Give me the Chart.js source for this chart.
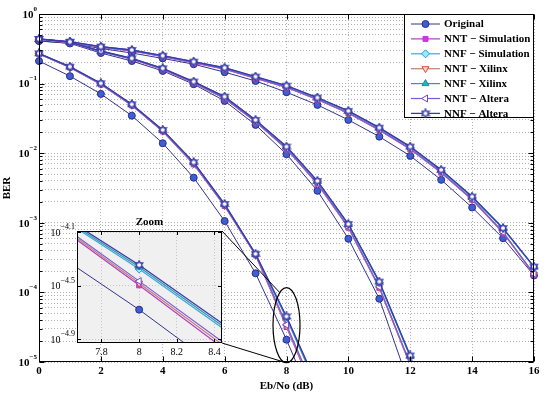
<!DOCTYPE html>
<html>
<head>
<meta charset="utf-8">
<script src="https://cdn.jsdelivr.net/npm/chart.js@4.4.0/dist/chart.umd.min.js"></script>
<style>
  html, body { margin: 0; padding: 0; background: #fff; }
  #wrap { position: relative; width: 550px; height: 394px; }
  #main { position: absolute; left: 0; top: 0; }
  #zoom { position: absolute; }
</style>
</head>
<body>
<div id="wrap">
  <canvas id="main" width="550" height="394"></canvas>
  <canvas id="zoom" width="190" height="152"></canvas>
</div>
<script>
// Eb/No axis values (dB)
var ebno = [0, 1, 2, 3, 4, 5, 6, 7, 8, 9, 10, 11, 12, 13, 14, 15, 16];

var seriesNames = ['Original', 'NNT \u2212 Simulation', 'NNF \u2212 Simulation', 'NNT \u2212 Xilinx',
                   'NNF \u2212 Xilinx', 'NNT \u2212 Altera', 'NNF \u2212 Altera'];

// upper family of curves
var originalA = [0.41, 0.38, 0.32, 0.275, 0.23, 0.19, 0.146, 0.109, 0.0751, 0.0494, 0.0301, 0.0173, 0.00915, 0.00414, 0.00166, 0.00060, 0.000175];
var nntSimA = [0.432, 0.392, 0.332, 0.296, 0.244, 0.199, 0.161, 0.119, 0.088, 0.0588, 0.0376, 0.0214, 0.0114, 0.00525, 0.00214, 0.00072, 0.000180];
var nnfSimA = [0.436, 0.398, 0.338, 0.302, 0.250, 0.205, 0.167, 0.124, 0.092, 0.0620, 0.0400, 0.0229, 0.0122, 0.0056, 0.00232, 0.00082, 0.000230];
var nntXilA = [0.433, 0.393, 0.333, 0.297, 0.245, 0.200, 0.162, 0.120, 0.0885, 0.0592, 0.0379, 0.0216, 0.0115, 0.0053, 0.00216, 0.00073, 0.000182];
var nnfXilA = [0.437, 0.399, 0.339, 0.303, 0.251, 0.206, 0.168, 0.125, 0.093, 0.0625, 0.0402, 0.0231, 0.0123, 0.0057, 0.00235, 0.00083, 0.000232];
var nntAltA = [0.434, 0.394, 0.334, 0.298, 0.246, 0.201, 0.163, 0.121, 0.089, 0.0596, 0.0382, 0.0218, 0.0116, 0.00535, 0.00218, 0.000735, 0.000184];
var nnfAltA = [0.438, 0.400, 0.340, 0.304, 0.252, 0.207, 0.169, 0.126, 0.0935, 0.0629, 0.0405, 0.0233, 0.01245, 0.00576, 0.00238, 0.00084, 0.000235];

// middle family
var originalB = [0.41, 0.378, 0.275, 0.211, 0.152, 0.098, 0.0564, 0.0255, 0.00968, 0.00288, 0.00059, 0.000081, 0.0000043];
var nntSimB = [0.432, 0.388, 0.288, 0.225, 0.160, 0.102, 0.0610, 0.0282, 0.0115, 0.0036, 0.00085, 0.000116, 0.0000090];
var nnfSimB = [0.436, 0.393, 0.292, 0.229, 0.164, 0.105, 0.0640, 0.0296, 0.0122, 0.0039, 0.00094, 0.000138, 0.0000118];
var nntXilB = [0.433, 0.389, 0.289, 0.226, 0.161, 0.103, 0.0614, 0.0285, 0.0116, 0.00365, 0.00086, 0.000118, 0.0000092];
var nnfXilB = [0.437, 0.394, 0.293, 0.230, 0.165, 0.106, 0.0645, 0.0298, 0.0123, 0.00395, 0.00095, 0.000140, 0.0000120];
var nntAltB = [0.434, 0.390, 0.290, 0.227, 0.162, 0.104, 0.0618, 0.0288, 0.0117, 0.0037, 0.00087, 0.000120, 0.0000094];
var nnfAltB = [0.438, 0.395, 0.294, 0.231, 0.166, 0.107, 0.0650, 0.0301, 0.01245, 0.0040, 0.00096, 0.000143, 0.0000124];

// lower (steep) family
var originalC = [0.211, 0.128, 0.071, 0.0346, 0.0139, 0.00445, 0.00106, 0.000188, 0.0000209, 0.0000019];
var nntSimC = [0.266, 0.170, 0.097, 0.0485, 0.0206, 0.0069, 0.00174, 0.000342, 0.0000318, 0.0000028];
var nnfSimC = [0.270, 0.173, 0.100, 0.0500, 0.0213, 0.0073, 0.00183, 0.000347, 0.0000422, 0.0000042];
var nntXilC = [0.267, 0.171, 0.098, 0.0488, 0.0207, 0.0070, 0.00176, 0.000347, 0.0000330, 0.0000030];
var nnfXilC = [0.271, 0.174, 0.1005, 0.0503, 0.0214, 0.00735, 0.00185, 0.000352, 0.0000436, 0.0000044];
var nntAltC = [0.268, 0.172, 0.099, 0.0491, 0.0209, 0.0071, 0.00178, 0.000352, 0.0000342, 0.0000032];
var nnfAltC = [0.272, 0.175, 0.101, 0.0505, 0.0216, 0.0074, 0.00186, 0.000358, 0.0000452, 0.0000046];

// zoom window
var zoomTicksX = [7.8, 8, 8.2, 8.4];
var zoomTicksExp = [-4.9, -4.5, -4.1];

var SERIF = '"Liberation Serif", "DejaVu Serif", serif';
var INSET_LEFT = 40, INSET_TOP = 212;

// six pointed star marker for NNF - Altera
var hexagram = (function () {
    var c = document.createElement('canvas');
    c.width = 10; c.height = 10;
    var g = c.getContext('2d');
    g.beginPath();
    for (var k = 0; k < 12; k++) {
        var r = k % 2 ? 2.3 : 4.2;
        var a = (-90 + k * 30) * Math.PI / 180;
        var px = 5 + r * Math.cos(a), py = 5 + r * Math.sin(a);
        if (k) g.lineTo(px, py); else g.moveTo(px, py);
    }
    g.closePath();
    g.fillStyle = '#fff'; g.fill();
    g.strokeStyle = '#3a3aa8'; g.lineWidth = 1.3; g.stroke();
    return c;
})();

var styles = [
    { line: '#34348a', fill: '#3d5fd0', edge: '#2b2b90', point: 'circle', rot: 0, r: 3.5, lw: 1 },
    { line: '#b23cc8', fill: '#d535e0', edge: '#b23cc8', point: 'rect', rot: 0, r: 3.5, lw: 1.2 },
    { line: '#3ea6dc', fill: '#8ef0ff', edge: '#3a8fd8', point: 'rectRot', rot: 0, r: 4, lw: 1.2 },
    { line: '#c08070', fill: '#ffd0d0', edge: '#e04848', point: 'triangle', rot: 180, r: 4, lw: 1.2 },
    { line: '#2c98b0', fill: '#22b4cc', edge: '#1e8aa8', point: 'triangle', rot: 0, r: 4, lw: 1.2 },
    { line: '#7a5ad8', fill: '#ffffff', edge: '#6a4ad0', point: 'triangle', rot: 270, r: 4, lw: 1.2 },
    { line: '#3a3aa8', fill: '#ffffff', edge: '#3a3aa8', point: hexagram, rot: 0, r: 4.5, lw: 1.3 }
];

var familyA = [originalA, nntSimA, nnfSimA, nntXilA, nnfXilA, nntAltA, nnfAltA];
var familyB = [originalB, nntSimB, nnfSimB, nntXilB, nnfXilB, nntAltB, nnfAltB];
var familyC = [originalC, nntSimC, nnfSimC, nntXilC, nnfXilC, nntAltC, nnfAltC];

function makeSets(families, clip) {
    var sets = [];
    families.forEach(function (fam) {
        fam.forEach(function (arr, s) {
            var st = styles[s];
            sets.push({
                label: seriesNames[s],
                data: arr.map(function (v, i) { return { x: ebno[i], y: v }; }),
                borderColor: st.line,
                borderWidth: st.lw,
                pointStyle: st.point,
                pointRotation: st.rot,
                pointRadius: st.r,
                pointBackgroundColor: st.fill,
                pointBorderColor: st.edge,
                pointBorderWidth: 1,
                tension: 0,
                order: 6 - s,
                clip: clip
            });
        });
    });
    return sets;
}

// "10" with a superscript exponent
function drawPow(ctx, exp, xRight, y, baseFont, supFont, lift) {
    ctx.font = supFont;
    var sw = ctx.measureText(exp).width;
    ctx.font = baseFont;
    var bw = ctx.measureText('10').width;
    ctx.fillStyle = '#000';
    ctx.textAlign = 'left';
    ctx.textBaseline = 'middle';
    ctx.fillText('10', xRight - sw - bw, y + 1);
    ctx.font = supFont;
    ctx.fillText(exp, xRight - sw, y - lift);
}

function fmtExp(e) {
    return e < 0 ? '\u2212' + String(-e) : String(e);
}

/* ---------- inset (zoom) chart ---------- */
var zoomCanvas = document.getElementById('zoom');
zoomCanvas.style.left = INSET_LEFT + 'px';
zoomCanvas.style.top = INSET_TOP + 'px';

var insetPlugin = {
    id: 'insetDeco',
    beforeDraw: function (chart) {
        var a = chart.chartArea, ctx = chart.ctx;
        ctx.save();
        ctx.fillStyle = '#f0f0f0';
        ctx.fillRect(a.left, a.top, a.right - a.left, a.bottom - a.top);
        ctx.restore();
    },
    afterDraw: function (chart) {
        var a = chart.chartArea, ctx = chart.ctx;
        var xs = chart.scales.x, ys = chart.scales.y;
        ctx.save();
        ctx.strokeStyle = '#000';
        ctx.lineWidth = 1;
        ctx.strokeRect(Math.round(a.left) + 0.5, Math.round(a.top) + 0.5,
                       Math.round(a.right - a.left) - 1, Math.round(a.bottom - a.top) - 1);
        ctx.beginPath();
        zoomTicksX.forEach(function (v) {
            var px = Math.round(xs.getPixelForValue(v)) + 0.5;
            ctx.moveTo(px, a.bottom); ctx.lineTo(px, a.bottom - 4);
            ctx.moveTo(px, a.top); ctx.lineTo(px, a.top + 4);
        });
        zoomTicksExp.forEach(function (e) {
            var py = Math.round(ys.getPixelForValue(Math.pow(10, e))) + 0.5;
            ctx.moveTo(a.left, py); ctx.lineTo(a.left + 4, py);
            ctx.moveTo(a.right, py); ctx.lineTo(a.right - 4, py);
        });
        ctx.stroke();
        zoomTicksExp.forEach(function (e) {
            var py = ys.getPixelForValue(Math.pow(10, e));
            drawPow(ctx, fmtExp(e), a.left - 2, py, '10px ' + SERIF, '8px ' + SERIF, 5);
        });
        ctx.font = 'bold 11px ' + SERIF;
        ctx.textAlign = 'center';
        ctx.textBaseline = 'middle';
        ctx.fillText('Zoom', (a.left + a.right) / 2, a.top - 9);
        ctx.restore();
    }
};

var insetChart = new Chart(zoomCanvas, {
    type: 'line',
    data: { datasets: makeSets([familyC], 0) },
    options: {
        responsive: false,
        animation: false,
        devicePixelRatio: 1,
        layout: { padding: { left: 0, right: 8, top: 19, bottom: 0 } },
        plugins: { legend: { display: false }, tooltip: { enabled: false } },
        scales: {
            x: {
                type: 'linear', min: 7.67, max: 8.44,
                afterBuildTicks: function (s) { s.ticks = zoomTicksX.map(function (v) { return { value: v }; }); },
                ticks: {
                    color: '#000', padding: 3, maxRotation: 0,
                    font: { family: SERIF, size: 10 },
                    callback: function (v) { return String(v); }
                },
                grid: { color: '#c4c4c4', drawTicks: false },
                border: { display: false, dash: [1, 2] },
                afterFit: function (s) { s.height = 21; }
            },
            y: {
                type: 'logarithmic', min: Math.pow(10, -4.93), max: Math.pow(10, -4.09),
                afterBuildTicks: function (s) {
                    s.ticks = zoomTicksExp.map(function (e) { return { value: Math.pow(10, e) }; });
                },
                ticks: { display: false },
                grid: { color: '#c4c4c4', drawTicks: false },
                border: { display: false, dash: [1, 2] },
                afterFit: function (s) { s.width = 37; }
            }
        }
    },
    plugins: [insetPlugin]
});

/* ---------- main chart ---------- */
var mainPlugin = {
    id: 'mainDeco',
    afterDraw: function (chart) {
        var a = chart.chartArea, ctx = chart.ctx;
        var xs = chart.scales.x, ys = chart.scales.y;
        ctx.save();

        // box and inward ticks
        ctx.strokeStyle = '#000';
        ctx.lineWidth = 1;
        var L = Math.round(a.left) + 0.5, T = Math.round(a.top) + 0.5;
        var R = Math.round(a.right) - 0.5, B = Math.round(a.bottom) - 0.5;
        ctx.strokeRect(L, T, R - L, B - T);
        ctx.beginPath();
        xs.ticks.forEach(function (t) {
            var px = Math.round(xs.getPixelForValue(t.value)) + 0.5;
            ctx.moveTo(px, B); ctx.lineTo(px, B - 5);
            ctx.moveTo(px, T); ctx.lineTo(px, T + 5);
        });
        ys.ticks.forEach(function (t) {
            var e = Math.log10(t.value);
            var len = Math.abs(e - Math.round(e)) < 1e-9 ? 5 : 3;
            var py = Math.round(ys.getPixelForValue(t.value)) + 0.5;
            ctx.moveTo(L, py); ctx.lineTo(L + len, py);
            ctx.moveTo(R, py); ctx.lineTo(R - len, py);
        });
        ctx.stroke();

        // y tick labels 10^n
        for (var e = 0; e >= -5; e--) {
            drawPow(ctx, fmtExp(e), a.left - 2, ys.getPixelForValue(Math.pow(10, e)),
                    'bold 11px ' + SERIF, 'bold 7px ' + SERIF, 5);
        }

        // ellipse round the 8 dB points and the connectors to the inset
        var cx = xs.getPixelForValue(8);
        var yTop = ys.getPixelForValue(Math.pow(10, -3.93));
        var yBot = ys.getPixelForValue(Math.pow(10, -5.01));
        var cy = (yTop + yBot) / 2, ry = (yBot - yTop) / 2, rx = 13.5;
        ctx.lineWidth = 1.2;
        ctx.beginPath();
        ctx.ellipse(cx, cy, rx, ry, 0, 0, Math.PI * 2);
        ctx.stroke();

        var ia = insetChart.chartArea;
        var t1 = -120 * Math.PI / 180, t2 = 100 * Math.PI / 180;
        ctx.lineWidth = 1;
        ctx.beginPath();
        ctx.moveTo(INSET_LEFT + ia.right, INSET_TOP + ia.top);
        ctx.lineTo(cx + rx * Math.cos(t1), cy + ry * Math.sin(t1));
        ctx.moveTo(INSET_LEFT + ia.right, INSET_TOP + ia.bottom);
        ctx.lineTo(cx + rx * Math.cos(t2), cy + ry * Math.sin(t2));
        ctx.stroke();

        // legend in the top right corner
        var lw = 130, lh = 104;
        var lx = Math.round(a.right) - lw, ly = Math.round(a.top);
        ctx.fillStyle = '#fff';
        ctx.fillRect(lx, ly, lw, lh);
        ctx.strokeStyle = '#000';
        ctx.strokeRect(lx + 0.5, ly + 0.5, lw - 1, lh - 1);
        seriesNames.forEach(function (name, s) {
            var st = styles[s];
            var y = ly + 10 + s * 14.9;
            ctx.strokeStyle = st.line;
            ctx.lineWidth = st.lw;
            ctx.beginPath();
            ctx.moveTo(lx + 7, y); ctx.lineTo(lx + 36, y);
            ctx.stroke();
            ctx.fillStyle = st.fill;
            ctx.strokeStyle = st.edge;
            ctx.lineWidth = 1;
            Chart.helpers.drawPoint(ctx, { pointStyle: st.point, rotation: st.rot, radius: st.r, borderWidth: 1 },
                                    lx + 21.5, y);
            ctx.fillStyle = '#000';
            ctx.font = 'bold 11px ' + SERIF;
            ctx.textAlign = 'left';
            ctx.textBaseline = 'middle';
            ctx.fillText(name, lx + 40, y + 0.5);
        });
        ctx.restore();
    }
};

var yGridTicks = [];
for (var e = -5; e < 0; e++) {
    for (var m = 1; m <= 9; m++) yGridTicks.push(m * Math.pow(10, e));
}
yGridTicks.push(1);

var mainChart = new Chart(document.getElementById('main'), {
    type: 'line',
    data: { datasets: makeSets([familyA, familyB, familyC], { left: 6, right: 6, top: 6, bottom: 0 }) },
    options: {
        responsive: false,
        animation: false,
        devicePixelRatio: 1,
        layout: { padding: { left: 0, right: 16, top: 14, bottom: 0 } },
        plugins: { legend: { display: false }, tooltip: { enabled: false } },
        scales: {
            x: {
                type: 'linear', min: 0, max: 16,
                ticks: {
                    stepSize: 2, color: '#000', padding: 3, maxRotation: 0,
                    font: { family: SERIF, size: 11, weight: 'bold' }
                },
                grid: { color: '#b0b0b0', drawTicks: false },
                border: { display: false, dash: [1, 2] },
                title: {
                    display: true, text: 'Eb/No (dB)', color: '#000',
                    font: { family: SERIF, size: 11, weight: 'bold' },
                    padding: { top: 0, bottom: 1 }
                },
                afterFit: function (s) { s.height = 32; }
            },
            y: {
                type: 'logarithmic', min: 1e-5, max: 1,
                afterBuildTicks: function (s) {
                    s.ticks = yGridTicks.map(function (v) { return { value: v }; });
                },
                ticks: { display: false },
                grid: { color: '#b0b0b0', drawTicks: false },
                border: { display: false, dash: [1, 2] },
                title: {
                    display: true, text: 'BER', color: '#000',
                    font: { family: SERIF, size: 11, weight: 'bold' },
                    padding: { top: 1, bottom: 0 }
                },
                afterFit: function (s) { s.width = 39; }
            }
        }
    },
    plugins: [mainPlugin]
});
</script>
</body>
</html>
